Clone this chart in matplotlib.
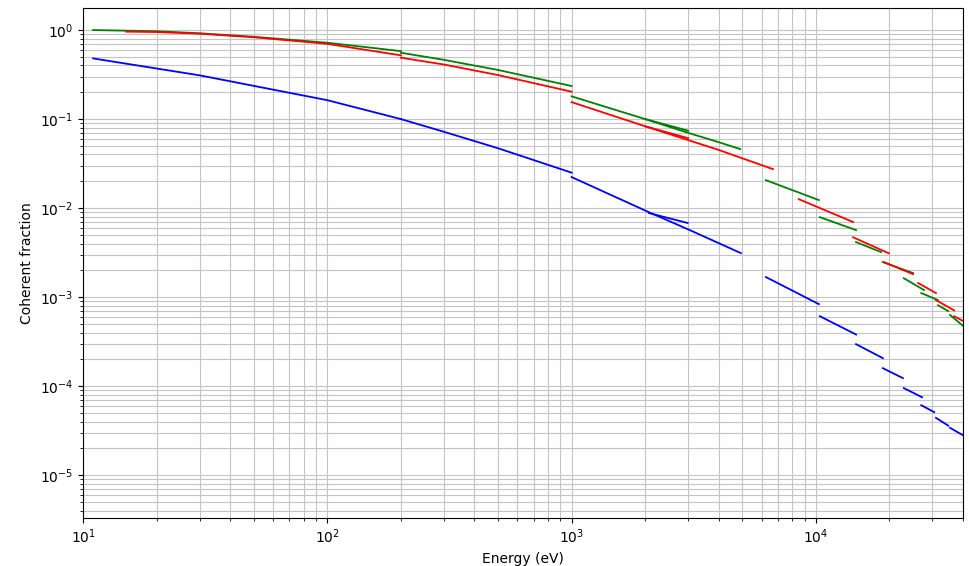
import matplotlib
matplotlib.use("Agg")
import matplotlib.pyplot as plt

# 每个谐波一段，能量 (eV) 和相干分数
green_E = [[11, 20, 30, 50, 100, 200], [200, 300, 500, 1000], [1000, 2000, 3000, 4000, 4900],
           [2000, 3000], [6240, 10280], [10380, 14600], [14600, 18500], [18800, 25000],
           [22900, 27700], [27000, 31600], [31600, 34800], [35400, 41000]]
green_f = [[1.0, 0.97, 0.92, 0.84, 0.72, 0.58], [0.556, 0.463, 0.356, 0.235], [0.18, 0.10, 0.07, 0.055, 0.046],
           [0.10, 0.074], [0.0206, 0.0123], [0.0079, 0.00566], [0.00415, 0.0032], [0.00247, 0.00186],
           [1.63e-3, 1.2e-3], [1.11e-3, 9.25e-4], [8.1e-4, 6.97e-4], [6.3e-4, 4.5e-4]]

red_E = [[15, 20, 30, 50, 100, 200], [200, 300, 500, 1000], [1000, 2000, 4000, 6670],
         [2000, 3000], [8510, 14200], [14200, 19900], [19000, 25000], [26200, 31000],
         [31000, 36800], [36800, 41000]]
red_f = [[0.96, 0.95, 0.91, 0.83, 0.70, 0.52], [0.489, 0.41, 0.312, 0.203], [0.155, 0.083, 0.045, 0.0274],
         [0.083, 0.061], [0.0126, 0.00697], [0.0047, 0.0031], [0.00247, 0.00181], [1.44e-3, 1.11e-3],
         [9.25e-4, 7.1e-4], [6.1e-4, 5.2e-4]]

blue_E = [[11, 30, 100, 200], [200, 300, 500, 1000], [1000, 2070, 2985, 4930], [2070, 2985],
          [6240, 10280], [10380, 14600], [14600, 18800], [18800, 22700], [22900, 27200],
          [27000, 30500], [31000, 34800], [35400, 41000]]
blue_f = [[0.48, 0.31, 0.163, 0.100], [0.100, 0.072, 0.047, 0.025], [0.0223, 0.009, 0.0058, 0.00312], [0.0088, 0.0068],
          [0.00168, 0.000834], [6.1e-4, 3.8e-4], [2.96e-4, 2.06e-4], [1.59e-4, 1.23e-4], [9.5e-5, 7.5e-5],
          [6.1e-5, 5.1e-5], [4.4e-5, 3.6e-5], [3.4e-5, 2.7e-5]]

fig = plt.figure(figsize=(9.69, 5.66), dpi=100)
ax = fig.add_axes([0.0857, 0.0848, 0.9081, 0.9011])

for E, f in zip(green_E, green_f):
    ax.plot(E, f, color='g', lw=1.3)
for E, f in zip(red_E, red_f):
    ax.plot(E, f, color='r', lw=1.3)
for E, f in zip(blue_E, blue_f):
    ax.plot(E, f, color='b', lw=1.3)

ax.set_xscale('log')
ax.set_yscale('log')
ax.set_xlim(10, 4e4)
ax.set_ylim(3.3e-6, 1.77)
ax.grid(True, which='both', color='#c4c4c4', lw=0.8)
ax.set_xlabel('Energy (eV)')
ax.set_ylabel('Coherent fraction')

fig.savefig('out.png')
